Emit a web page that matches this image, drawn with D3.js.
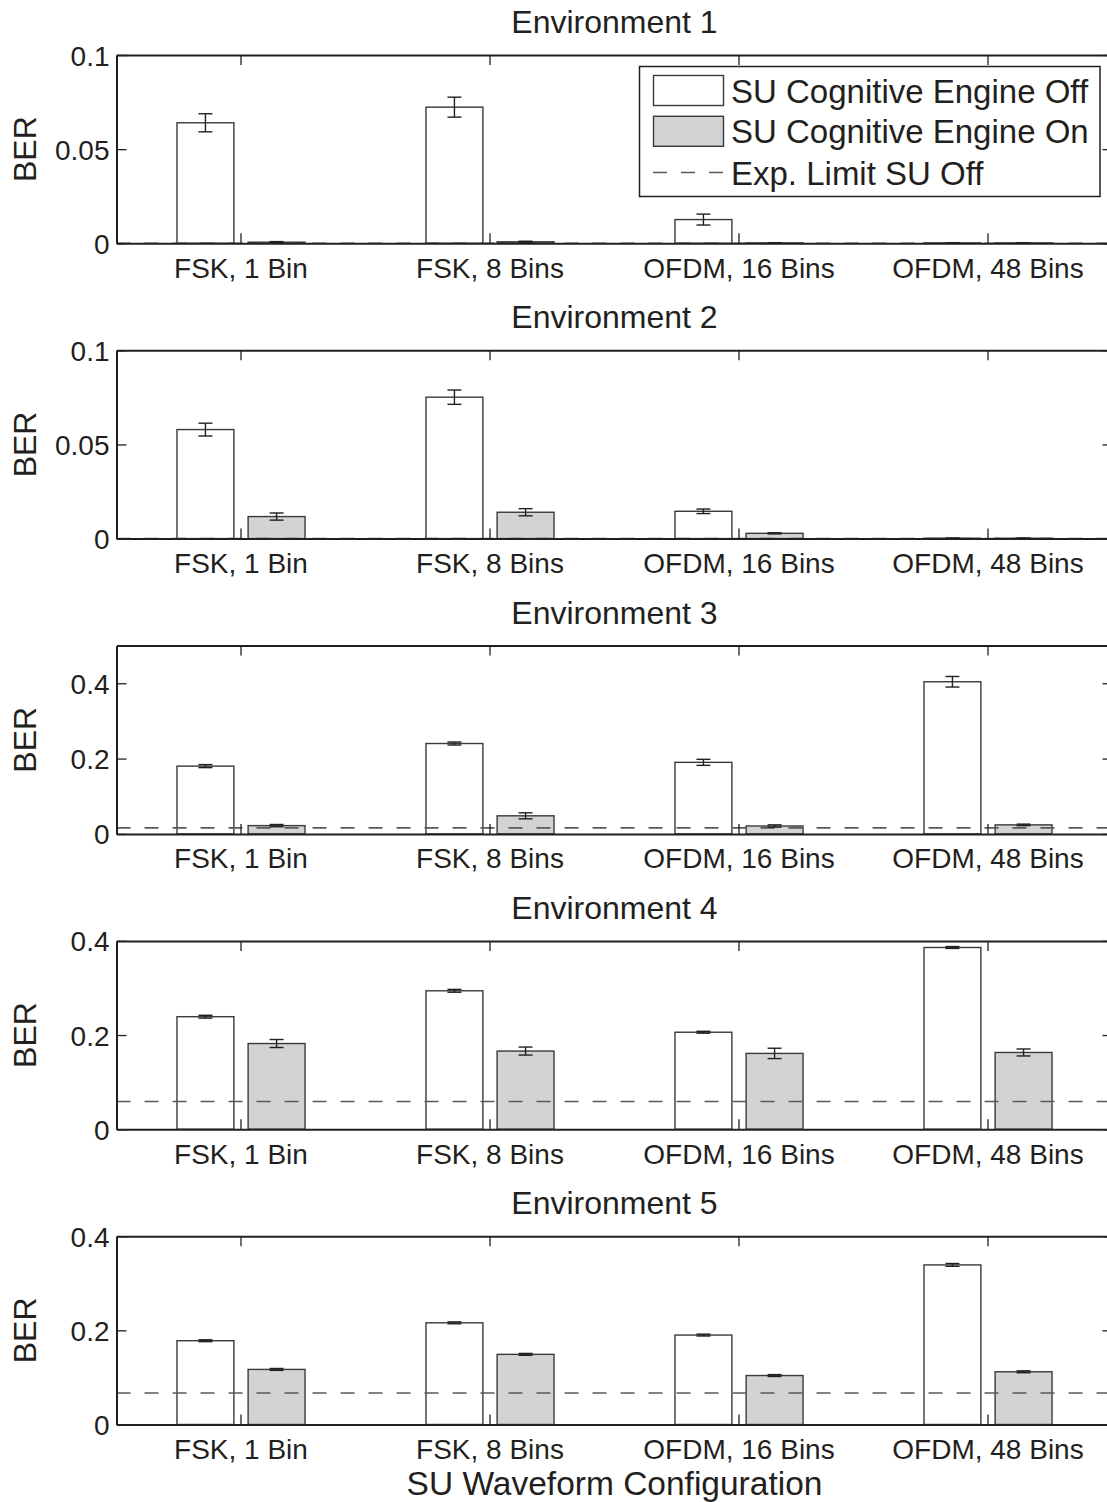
<!DOCTYPE html>
<html>
<head>
<meta charset="utf-8">
<script src="https://cdn.jsdelivr.net/npm/d3@7"></script>
<style>
  html, body { margin: 0; padding: 0; background: #fff; }
  svg { display: block; }
  text { font-family: "Liberation Sans", Arial, Helvetica, sans-serif; fill: #231f20; }
</style>
</head>
<body>
<svg id="chart" width="1107" height="1502"></svg>
<script>
// ---------------- DATA ----------------
const categories = ["FSK, 1 Bin", "FSK, 8 Bins", "OFDM, 16 Bins", "OFDM, 48 Bins"];
const panelTitles = ["Environment 1", "Environment 2", "Environment 3", "Environment 4", "Environment 5"];
const seriesNames = ["SU Cognitive Engine Off", "SU Cognitive Engine On"];
const limitName = "Exp. Limit SU Off";

// BER with SU cognitive engine off (per environment, per category)
const berOff = [
  [0.0640, 0.0723, 0.0126, 0.0002],
  [0.0579, 0.0751, 0.0145, 0.0002],
  [0.180, 0.240, 0.190, 0.404],
  [0.239, 0.294, 0.206, 0.386],
  [0.178, 0.216, 0.190, 0.339]
];
const errOff = [
  [0.0048, 0.0053, 0.0029, 0.0001],
  [0.0034, 0.0038, 0.0012, 0.0001],
  [0.004, 0.004, 0.008, 0.014],
  [0.003, 0.003, 0.002, 0.002],
  [0.002, 0.002, 0.002, 0.003]
];
// BER with SU cognitive engine on
const berOn = [
  [0.0006, 0.0008, 0.0002, 0.0002],
  [0.0117, 0.0140, 0.0028, 0.0002],
  [0.022, 0.048, 0.021, 0.024],
  [0.182, 0.166, 0.161, 0.163],
  [0.117, 0.149, 0.104, 0.112]
];
const errOn = [
  [0.0003, 0.0003, 0.0001, 0.0001],
  [0.0019, 0.0019, 0.0003, 0.0001],
  [0.003, 0.008, 0.003, 0.002],
  [0.0085, 0.0085, 0.011, 0.0074],
  [0.002, 0.002, 0.002, 0.002]
];
// Experimental limit with SU off (dashed line)
const expLimit = [0, 0, 0.016, 0.059, 0.067];
const yMax = [0.1, 0.1, 0.5, 0.4, 0.4];
const yTicks = [
  [0, 0.05, 0.1],
  [0, 0.05, 0.1],
  [0, 0.2, 0.4],
  [0, 0.2, 0.4],
  [0, 0.2, 0.4]
];
const xLabel = "SU Waveform Configuration";
const yLabel = "BER";

// ---------------- LAYOUT ----------------
const svg = d3.select("#chart");
const left = 116.5, right = 1112.5;
const firstTop = 55, panelStep = 295.3, panelH = 188.3;
const ink = "#231f20";
const grayFill = "#d1d3d4";
const dashColor = "#58595b";

const x = d3.scaleBand().domain(categories).range([left, right]).paddingInner(0).paddingOuter(0);
const xs = d3.scaleBand().domain(["off", "on"])
  .range([-x.bandwidth() * 0.2857, x.bandwidth() * 0.2857])
  .paddingInner(0.2).paddingOuter(0.1);
const xc = c => x(c) + x.bandwidth() / 2;

const fmt = d => d === 0 ? "0" : String(d);

panelTitles.forEach((title, p) => {
  const top = firstTop + p * panelStep;
  const bottom = top + panelH;
  const y = d3.scaleLinear().domain([0, yMax[p]]).range([bottom, top]);
  const g = svg.append("g");

  // bars
  const rows = categories.map((c, i) => ({c, off: berOff[p][i], on: berOn[p][i], eOff: errOff[p][i], eOn: errOn[p][i]}));
  const series = [
    {key: "off", fill: "#ffffff", vals: rows.map(r => ({c: r.c, v: r.off, e: r.eOff}))},
    {key: "on", fill: grayFill, vals: rows.map(r => ({c: r.c, v: r.on, e: r.eOn}))}
  ];
  series.forEach(s => {
    g.selectAll(null).data(s.vals).enter().append("rect")
      .attr("x", d => xc(d.c) + xs(s.key))
      .attr("width", xs.bandwidth())
      .attr("y", d => y(d.v))
      .attr("height", d => y(0) - y(d.v))
      .attr("fill", s.fill)
      .attr("stroke", "#3a3a3a")
      .attr("stroke-width", 1.4);
  });

  // dashed limit line
  g.append("line")
    .attr("x1", left).attr("x2", right)
    .attr("y1", y(expLimit[p])).attr("y2", y(expLimit[p]))
    .attr("stroke", dashColor).attr("stroke-width", 1.6)
    .attr("stroke-dasharray", "14,14");

  // error bars
  const capW = 14;
  series.forEach(s => {
    const eg = g.selectAll(null).data(s.vals).enter().append("g")
      .attr("stroke", ink).attr("stroke-width", 1.4);
    const cx = d => xc(d.c) + xs(s.key) + xs.bandwidth() / 2;
    eg.append("line").attr("x1", cx).attr("x2", cx)
      .attr("y1", d => y(d.v - d.e)).attr("y2", d => y(d.v + d.e));
    eg.append("line").attr("x1", d => cx(d) - capW / 2).attr("x2", d => cx(d) + capW / 2)
      .attr("y1", d => y(d.v + d.e)).attr("y2", d => y(d.v + d.e));
    eg.append("line").attr("x1", d => cx(d) - capW / 2).attr("x2", d => cx(d) + capW / 2)
      .attr("y1", d => y(d.v - d.e)).attr("y2", d => y(d.v - d.e));
  });

  // axes
  const styleAxis = sel => {
    sel.select(".domain").attr("stroke", ink).attr("stroke-width", 2);
    sel.selectAll(".tick line").attr("stroke", ink).attr("stroke-width", 1.3);
    sel.selectAll(".tick text").attr("fill", ink).style("font-size", "28px")
      .style("font-family", '"Liberation Sans", Arial, Helvetica, sans-serif');
  };
  const ax = g.append("g").attr("transform", `translate(0,${bottom})`)
    .call(d3.axisBottom(x).tickSize(-10).tickSizeOuter(0).tickPadding(14.7));
  styleAxis(ax);
  const axTop = g.append("g").attr("transform", `translate(0,${top})`)
    .call(d3.axisTop(x).tickSize(-10).tickSizeOuter(0).tickFormat(""));
  styleAxis(axTop);
  const ayl = g.append("g").attr("transform", `translate(${left},0)`)
    .call(d3.axisLeft(y).tickValues(yTicks[p]).tickFormat(fmt).tickSize(-10).tickSizeOuter(0).tickPadding(7));
  styleAxis(ayl);
  ayl.selectAll(".tick text").attr("dy", "0.36em");
  const ayr = g.append("g").attr("transform", `translate(${right},0)`)
    .call(d3.axisRight(y).tickValues(yTicks[p]).tickSize(-10).tickSizeOuter(0).tickFormat(""));
  styleAxis(ayr);

  // title
  g.append("text")
    .attr("x", (left + right) / 2).attr("y", top - 22)
    .attr("text-anchor", "middle").style("font-size", "32px")
    .text(title);

  // y label
  g.append("text")
    .attr("transform", `translate(36,${(top + bottom) / 2}) rotate(-90)`)
    .attr("text-anchor", "middle").style("font-size", "32px")
    .text(yLabel);
});

// x label
svg.append("text")
  .attr("x", (left + right) / 2).attr("y", 1495)
  .attr("text-anchor", "middle").style("font-size", "33.5px")
  .text(xLabel);

// legend (first panel)
const lg = svg.append("g");
lg.append("rect").attr("x", 639.5).attr("y", 66.5).attr("width", 460.5).attr("height", 130)
  .attr("fill", "#fff").attr("stroke", ink).attr("stroke-width", 1.5);
const legendItems = [
  {name: seriesNames[0], type: "rect", fill: "#ffffff", cy: 90.5},
  {name: seriesNames[1], type: "rect", fill: grayFill, cy: 131.3},
  {name: limitName, type: "line", cy: 172.5}
];
legendItems.forEach(it => {
  if (it.type === "rect") {
    lg.append("rect").attr("x", 653.5).attr("y", it.cy - 15).attr("width", 70).attr("height", 30)
      .attr("fill", it.fill).attr("stroke", "#3a3a3a").attr("stroke-width", 1.4);
  } else {
    lg.append("line").attr("x1", 653).attr("x2", 723).attr("y1", it.cy).attr("y2", it.cy)
      .attr("stroke", dashColor).attr("stroke-width", 1.6).attr("stroke-dasharray", "14,14");
  }
  lg.append("text").attr("x", 731).attr("y", it.cy + 12)
    .style("font-size", "33px").text(it.name);
});
</script>
</body>
</html>
